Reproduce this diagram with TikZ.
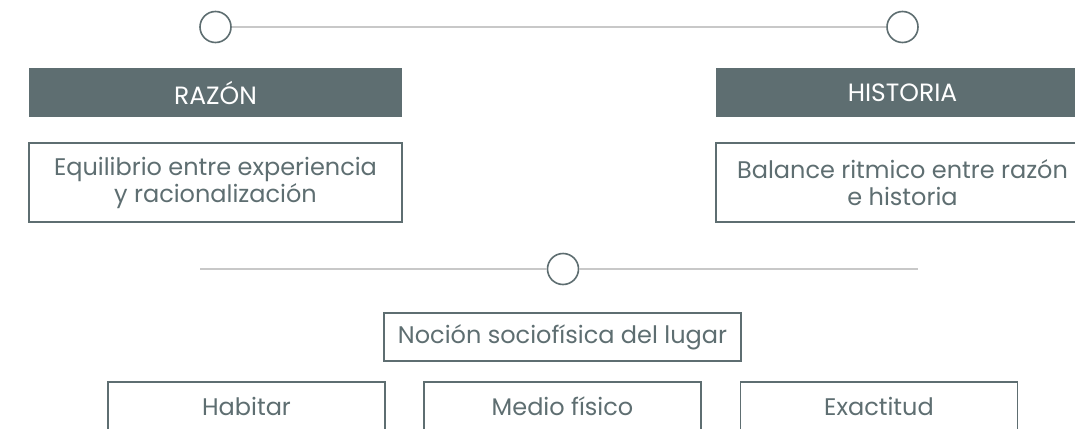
\documentclass[tikz,border=0pt]{standalone}
\usepackage{fontspec}
\setmainfont{Poppins}
\definecolor{ink}{HTML}{5E6E71}
\definecolor{bar}{HTML}{5E6E71}
\definecolor{rule}{HTML}{C8C8C8}
\begin{document}
\begin{tikzpicture}[x=1pt,y=-1pt,
  dot/.style={circle,draw=ink,line width=1.6pt,fill=white,minimum size=31pt,inner sep=0pt},
  conn/.style={draw=rule,line width=1.8pt},
  headbar/.style={rectangle,fill=bar,text=white,minimum width=373pt,minimum height=49pt,inner sep=0pt,font=\fontsize{25}{28}\selectfont},
  txtbox/.style={rectangle,draw=ink,line width=1.2pt,text=ink,inner sep=0pt,align=center,font=\fontsize{24}{27}\selectfont},
]
\clip (0,0) rectangle (1075,428);
\fill[white] (0,0) rectangle (1075,428);
% top row
\node[dot] (c1) at (215.5,27) {};
\node[dot] (c2) at (902.5,27) {};
\draw[conn] (c1) -- (c2);
\node[headbar] (h1) at (215.5,92.5) {RAZÓN};
\node[headbar] (h2) at (902.5,92.5) {HISTORIA};
\node[txtbox,minimum width=373pt,minimum height=79pt] (b1) at (215.5,182.5) {Equilibrio entre experiencia\\y racionalización};
\node[txtbox,minimum width=373pt,minimum height=79pt] (b2) at (902.5,182.5) {Balance ritmico entre razón\\e historia};
% middle
\coordinate (ml) at (200,269);
\coordinate (mr) at (918,269);
\node[dot] (c3) at (563,269) {};
\draw[conn] (ml) -- (c3);
\draw[conn] (c3) -- (mr);
\node[txtbox,minimum width=357pt,minimum height=48pt] (n) at (562.5,337) {Noción sociofísica del lugar};
% bottom
\node[txtbox,minimum width=277pt,minimum height=48pt] (k1) at (246.5,406) {Habitar};
\node[txtbox,minimum width=277pt,minimum height=48pt] (k2) at (562.5,406) {Medio físico};
\node[txtbox,minimum width=277pt,minimum height=48pt] (k3) at (879,406) {Exactitud};
\end{tikzpicture}
\end{document}
